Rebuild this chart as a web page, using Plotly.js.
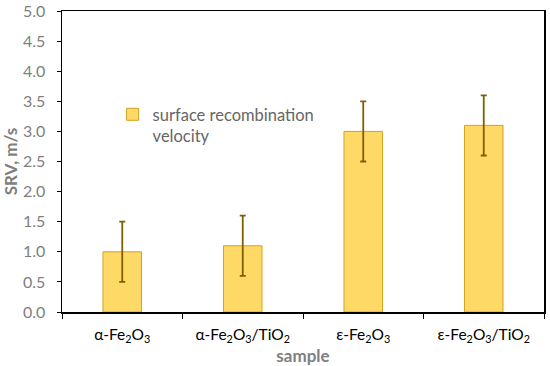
<!DOCTYPE html>
<html><head><meta charset="utf-8">
<script src="https://cdn.plot.ly/plotly-3.0.1.min.js"></script>
<style>html,body{margin:0;padding:0;background:#fff}</style>
</head><body>
<div id="chart" style="width:550px;height:366px"></div>
<script>
const categories = ["α-Fe<sub>2</sub>O<sub>3</sub>", "α-Fe<sub>2</sub>O<sub>3</sub>/TiO<sub>2</sub>", "ε-Fe<sub>2</sub>O<sub>3</sub>", "ε-Fe<sub>2</sub>O<sub>3</sub>/TiO<sub>2</sub>"];
const srvValues = [1.0, 1.1, 3.0, 3.1];
const srvErrors = [0.5, 0.5, 0.5, 0.5];
const seriesName = "surface recombination<br>velocity";

const trace = {
  type: "bar",
  x: categories,
  y: srvValues,
  name: seriesName,
  width: 0.32,
  marker: {color: "#FFD966", line: {color: "#D4A21E", width: 1}},
  error_y: {type: "data", array: srvErrors, visible: true, color: "#7F6000", thickness: 1.8, width: 3},
  showlegend: true
};

const layout = {
  width: 550, height: 366,
  margin: {l: 62, r: 6, t: 11, b: 54},
  paper_bgcolor: "#fff", plot_bgcolor: "#fff",
  font: {family: "Lato, 'Open Sans', sans-serif", color: "#595959"},
  showlegend: true,
  legend: {x: 0.105, y: 0.714, xanchor: "left", yanchor: "top", bgcolor: "rgba(0,0,0,0)",
           font: {size: 16.5, color: "#666666"}, valign: "top", itemwidth: 30},
  xaxis: {
    type: "category", range: [-0.5, 3.5], tickson: "boundaries",
    ticks: "outside", ticklen: 5, tickcolor: "#000", tickwidth: 1,
    showline: true, linecolor: "#000", linewidth: 1.5, mirror: true,
    showgrid: false, zeroline: false, automargin: false,
    ticklabelstandoff: 8,
    tickfont: {size: 15.5, color: "#000"},
    title: {text: "sample", font: {size: 17, color: "#7F7F7F", weight: "bold"}, standoff: 0}
  },
  yaxis: {
    range: [0, 5], dtick: 0.5, tickformat: ".1f",
    ticks: "outside", ticklen: 4, tickcolor: "#000", tickwidth: 1,
    showline: true, linecolor: "#000", linewidth: 1.5, mirror: true,
    showgrid: false, zeroline: false, automargin: false,
    ticklabelstandoff: 8,
    tickfont: {size: 16, color: "#7F7F7F"},
    title: {text: "SRV, m/s", font: {size: 17, color: "#7F7F7F", weight: "bold"}, standoff: 4}
  }
};

Plotly.newPlot("chart", [trace], layout, {displayModeBar: false, staticPlot: true});
</script>
</body></html>
